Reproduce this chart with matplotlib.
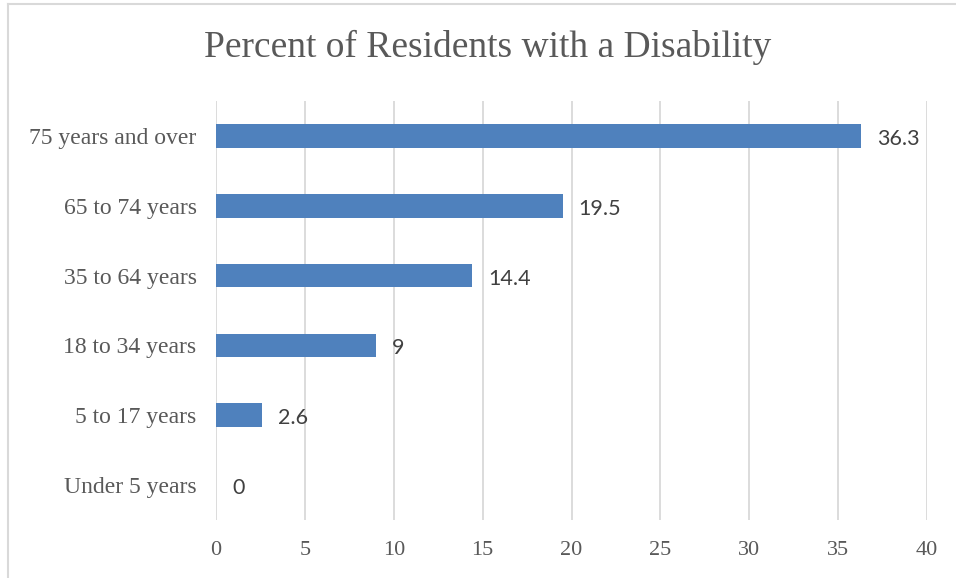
import matplotlib.pyplot as plt
from matplotlib.lines import Line2D

categories = ["Under 5 years", "5 to 17 years", "18 to 34 years",
              "35 to 64 years", "65 to 74 years", "75 years and over"]
values = [0, 2.6, 9, 14.4, 19.5, 36.3]
value_labels = ["0", "2.6", "9", "14.4", "19.5", "36.3"]
xticks = [0, 5, 10, 15, 20, 25, 30, 35, 40]

text_color = "#595959"
bar_color = "#4F81BD"
grid_color = "#D9D9D9"

fig = plt.figure(figsize=(9.56, 5.78), dpi=100)
W, H = 956, 578
# axes placed in pixel coordinates
ax = fig.add_axes([216 / W, 1 - 520 / H, (927 - 216) / W, (520 - 101) / H])

pos = list(range(len(categories)))
ax.barh(pos, values, height=0.34, color=bar_color, zorder=3)
ax.set_xlim(0, 40)
ax.set_ylim(-0.5, len(categories) - 0.5)

for p, v, lab in zip(pos, values, value_labels):
    ax.annotate(lab, (v, p), xytext=(16, -3), textcoords="offset pixels",
                va="center", ha="left", fontsize=15.5, color="#404040",
                family="Lato")

ax.set_xticks(xticks)
ax.set_xticklabels([str(t) for t in xticks], family="Liberation Serif",
                   fontsize=16, color=text_color)
ax.set_yticks(pos)
ax.set_yticklabels(categories, family="Liberation Serif", fontsize=17,
                   color=text_color)
ax.tick_params(axis="both", length=0)
ax.tick_params(axis="x", pad=15)
ax.tick_params(axis="y", pad=14)
ax.grid(axis="x", color=grid_color, linewidth=1.3, zorder=0)
for s in ax.spines.values():
    s.set_visible(False)

fig.text(488 / W, 1 - 47 / H, "Percent of Residents with a Disability",
         ha="center", va="center", family="Liberation Serif", fontsize=27,
         color=text_color)

# chart border (only top and left edges visible)
fig.add_artist(Line2D([8 / W, 1], [1 - 4 / H, 1 - 4 / H],
                      transform=fig.transFigure, color=grid_color, lw=1.5))
fig.add_artist(Line2D([8 / W, 8 / W], [0, 1 - 4 / H],
                      transform=fig.transFigure, color=grid_color, lw=1.5))

fig.savefig("out.png", dpi=100)
